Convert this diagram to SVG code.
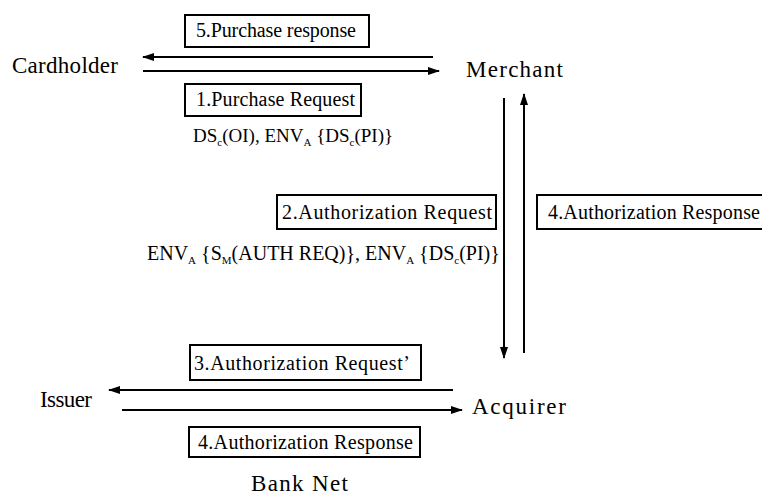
<svg xmlns="http://www.w3.org/2000/svg" width="762" height="496" viewBox="0 0 762 496" font-family="'Liberation Serif', 'Times New Roman', serif">
<style>
text{font-family:'Liberation Serif','Times New Roman',serif;fill:#000}
.ent{font-size:23px}
.lbl{font-size:20px}
.box{fill:#fff;stroke:#000;stroke-width:2}
.conn{stroke:#000;stroke-width:2;fill:none}
</style>
<defs>
<marker id="ah" markerUnits="userSpaceOnUse" markerWidth="12" markerHeight="10" refX="11" refY="5" orient="auto">
<path d="M0,1 L12,5 L0,9 Z" fill="#000"/>
</marker>
</defs>
<rect width="762" height="496" fill="#fff"/>
<g id="connectors">
<line class="conn" x1="433" y1="57" x2="143" y2="57" marker-end="url(#ah)"/>
<line class="conn" x1="143" y1="71" x2="439" y2="71" marker-end="url(#ah)"/>
<line class="conn" x1="504" y1="98" x2="504" y2="358" marker-end="url(#ah)"/>
<line class="conn" x1="524" y1="353" x2="524" y2="94" marker-end="url(#ah)"/>
<line class="conn" x1="453" y1="390" x2="109" y2="390" marker-end="url(#ah)"/>
<line class="conn" x1="122" y1="410" x2="462" y2="410" marker-end="url(#ah)"/>
</g>
<g id="cardholder"><text class="ent" x="12" y="73" textLength="106" lengthAdjust="spacing">Cardholder</text></g>
<g id="merchant"><text class="ent" x="466" y="77" textLength="97" lengthAdjust="spacing">Merchant</text></g>
<g id="issuer"><text class="ent" x="40" y="407" textLength="52" lengthAdjust="spacing">Issuer</text></g>
<g id="acquirer"><text class="ent" x="472" y="414" textLength="94" lengthAdjust="spacing">Acquirer</text></g>
<g id="banknet"><text class="ent" x="251" y="491" textLength="97" lengthAdjust="spacing">Bank Net</text></g>
<g id="msg5">
<rect class="box" x="185" y="15" width="184" height="32"/>
<text class="lbl" x="196" y="37" textLength="160" lengthAdjust="spacing">5.Purchase response</text>
</g>
<g id="msg1">
<rect class="box" x="185" y="84" width="176" height="32"/>
<text class="lbl" x="196" y="106" textLength="159" lengthAdjust="spacing">1.Purchase Request</text>
</g>
<g id="payload1">
<text x="193" y="142" style="font-size:19px">DS<tspan font-size="11" dy="4">c</tspan><tspan dy="-4">(OI), ENV</tspan><tspan font-size="11" dy="4">A</tspan><tspan dy="-4"> {DS</tspan><tspan font-size="11" dy="4">c</tspan><tspan dy="-4">(PI)}</tspan></text>
</g>
<g id="msg2">
<rect class="box" x="277" y="195" width="219" height="34"/>
<text class="lbl" x="282" y="219" textLength="210" lengthAdjust="spacing">2.Authorization Request</text>
</g>
<g id="payload2">
<text x="147" y="260" style="font-size:20px">ENV<tspan font-size="11" dy="4">A</tspan><tspan dy="-4"> {S</tspan><tspan font-size="11" dy="4">M</tspan><tspan dy="-4">(AUTH REQ)}, ENV</tspan><tspan font-size="11" dy="4">A</tspan><tspan dy="-4"> {DS</tspan><tspan font-size="11" dy="4">c</tspan><tspan dy="-4">(PI)}</tspan></text>
</g>
<g id="msg4a">
<rect class="box" x="537" y="195" width="230" height="34"/>
<text class="lbl" x="548" y="219" textLength="212" lengthAdjust="spacing">4.Authorization Response</text>
</g>
<g id="msg3">
<rect class="box" x="190" y="345" width="231" height="35"/>
<text class="lbl" x="194" y="370" textLength="216" lengthAdjust="spacing">3.Authorization Request’</text>
</g>
<g id="msg4b">
<rect class="box" x="189" y="427" width="231" height="30"/>
<text class="lbl" x="198" y="449" textLength="215" lengthAdjust="spacing">4.Authorization Response</text>
</g>
</svg>
